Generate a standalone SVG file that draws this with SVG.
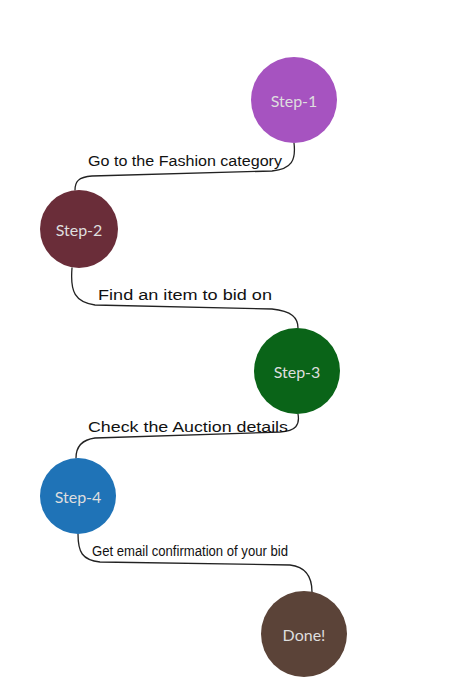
<svg xmlns="http://www.w3.org/2000/svg" width="452" height="693" viewBox="0 0 452 693">
<style>
.node text{font-family:Lato,"Noto Sans",sans-serif;font-size:16px;fill:#dedede;text-anchor:middle;dominant-baseline:central}
.edge{fill:none;stroke:#222;stroke-width:1.3;stroke-linecap:round}
.lbl{font-family:"Liberation Sans",Arial,sans-serif;font-size:14px;fill:#111}
</style>
<rect width="452" height="693" fill="#fff"/>
<g id="connectors">
<path class="edge" d="M294 143 C296 160 292 169 272 171 L92 176 C78 177 75 182 75 190"/>
<path class="edge" d="M72 268 C70 292 75 302 95 305 L272 309 C292 311 298 318 298 328"/>
<path class="edge" d="M298 414 C300 425 296 431 280 432 L95 438 C80 440 76 448 76 458"/>
<path class="edge" d="M78 534 C78 552 82 560 100 562 L290 565 C308 567 312 580 312 592"/>
<text class="lbl" x="88" y="166" textLength="194" lengthAdjust="spacingAndGlyphs">Go to the Fashion category</text>
<text class="lbl" x="98" y="300" textLength="174" lengthAdjust="spacingAndGlyphs">Find an item to bid on</text>
<text class="lbl" x="88" y="432" textLength="200" lengthAdjust="spacingAndGlyphs">Check the Auction details</text>
<text class="lbl" x="92" y="556" textLength="196" lengthAdjust="spacingAndGlyphs">Get email confirmation of your bid</text>
</g>
<g id="step1" class="node"><circle cx="294" cy="100" r="43" fill="#a653c0"/><text x="294" y="100">Step-1</text></g>
<g id="step2" class="node"><circle cx="79" cy="229" r="39" fill="#6a2d39"/><text x="79" y="229">Step-2</text></g>
<g id="step3" class="node"><circle cx="297" cy="371" r="43" fill="#0a6418"/><text x="297" y="371">Step-3</text></g>
<g id="step4" class="node"><circle cx="78" cy="496" r="38" fill="#1f73b7"/><text x="78" y="496">Step-4</text></g>
<g id="done" class="node"><circle cx="304" cy="634" r="43" fill="#5b4338"/><text x="304" y="634">Done!</text></g>
</svg>
